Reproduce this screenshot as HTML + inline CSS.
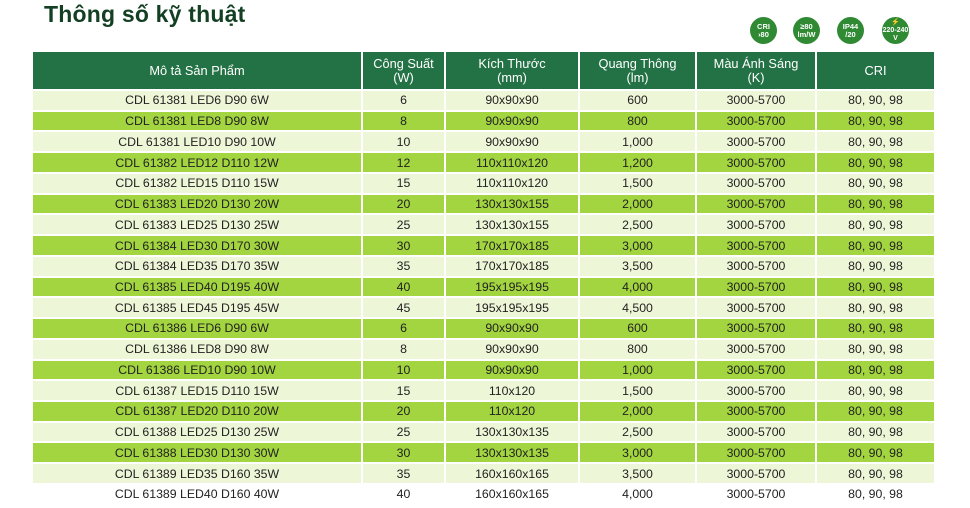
<!DOCTYPE html>
<html><head><meta charset="utf-8"><style>
body{margin:0;width:970px;height:508px;background:#fff;position:relative;overflow:hidden;font-family:"Liberation Sans",sans-serif}
.title{position:absolute;left:44px;top:1px;font-size:23px;font-weight:bold;color:#133f22;letter-spacing:0.2px}
.ic{position:absolute;top:17px;width:27px;height:27px;border-radius:50%;background:#2f8a33;color:#fff;font-size:7.5px;font-weight:bold;text-align:center;line-height:8px;display:flex;align-items:center;justify-content:center}
table{position:absolute;left:31px;top:50px;border-collapse:separate;border-spacing:2px;table-layout:fixed}
td,th{padding:0;text-align:center;font-size:12.3px;color:#222;font-weight:normal;white-space:nowrap}
th{background:#237245;color:#fff;height:37px;font-size:12.8px;line-height:14px}
td{height:18.74px;line-height:18px}
tr.a td{background:#eef6d8}
tr.b td{background:#a2d53f}
tr.c td{background:#fff}
</style></head><body>
<div class="title">Thông số kỹ thuật</div>
<div class="ic" style="left:750px">CRI<br>›80</div>
<div class="ic" style="left:793px">≥80<br>lm/W</div>
<div class="ic" style="left:837px">IP44<br>/20</div>
<div class="ic" style="left:882px;font-size:7px">⚡<br>220-240<br>V</div>
<table>
<colgroup><col style="width:328px"><col style="width:81px"><col style="width:132px"><col style="width:115px"><col style="width:118px"><col style="width:117px"></colgroup>
<tr><th>Mô tả Sản Phẩm</th><th>Công Suất<br>(W)</th><th>Kích Thước<br>(mm)</th><th>Quang Thông<br>(lm)</th><th>Màu Ánh Sáng<br>(K)</th><th>CRI</th></tr>
<tr class="a"><td>CDL 61381 LED6 D90 6W</td><td>6</td><td>90x90x90</td><td>600</td><td>3000-5700</td><td>80, 90, 98</td></tr>
<tr class="b"><td>CDL 61381 LED8 D90 8W</td><td>8</td><td>90x90x90</td><td>800</td><td>3000-5700</td><td>80, 90, 98</td></tr>
<tr class="a"><td>CDL 61381 LED10 D90 10W</td><td>10</td><td>90x90x90</td><td>1,000</td><td>3000-5700</td><td>80, 90, 98</td></tr>
<tr class="b"><td>CDL 61382 LED12 D110 12W</td><td>12</td><td>110x110x120</td><td>1,200</td><td>3000-5700</td><td>80, 90, 98</td></tr>
<tr class="a"><td>CDL 61382 LED15 D110 15W</td><td>15</td><td>110x110x120</td><td>1,500</td><td>3000-5700</td><td>80, 90, 98</td></tr>
<tr class="b"><td>CDL 61383 LED20 D130 20W</td><td>20</td><td>130x130x155</td><td>2,000</td><td>3000-5700</td><td>80, 90, 98</td></tr>
<tr class="a"><td>CDL 61383 LED25 D130 25W</td><td>25</td><td>130x130x155</td><td>2,500</td><td>3000-5700</td><td>80, 90, 98</td></tr>
<tr class="b"><td>CDL 61384 LED30 D170 30W</td><td>30</td><td>170x170x185</td><td>3,000</td><td>3000-5700</td><td>80, 90, 98</td></tr>
<tr class="a"><td>CDL 61384 LED35 D170 35W</td><td>35</td><td>170x170x185</td><td>3,500</td><td>3000-5700</td><td>80, 90, 98</td></tr>
<tr class="b"><td>CDL 61385 LED40 D195 40W</td><td>40</td><td>195x195x195</td><td>4,000</td><td>3000-5700</td><td>80, 90, 98</td></tr>
<tr class="a"><td>CDL 61385 LED45 D195 45W</td><td>45</td><td>195x195x195</td><td>4,500</td><td>3000-5700</td><td>80, 90, 98</td></tr>
<tr class="b"><td>CDL 61386 LED6 D90 6W</td><td>6</td><td>90x90x90</td><td>600</td><td>3000-5700</td><td>80, 90, 98</td></tr>
<tr class="a"><td>CDL 61386 LED8 D90 8W</td><td>8</td><td>90x90x90</td><td>800</td><td>3000-5700</td><td>80, 90, 98</td></tr>
<tr class="b"><td>CDL 61386 LED10 D90 10W</td><td>10</td><td>90x90x90</td><td>1,000</td><td>3000-5700</td><td>80, 90, 98</td></tr>
<tr class="a"><td>CDL 61387 LED15 D110 15W</td><td>15</td><td>110x120</td><td>1,500</td><td>3000-5700</td><td>80, 90, 98</td></tr>
<tr class="b"><td>CDL 61387 LED20 D110 20W</td><td>20</td><td>110x120</td><td>2,000</td><td>3000-5700</td><td>80, 90, 98</td></tr>
<tr class="a"><td>CDL 61388 LED25 D130 25W</td><td>25</td><td>130x130x135</td><td>2,500</td><td>3000-5700</td><td>80, 90, 98</td></tr>
<tr class="b"><td>CDL 61388 LED30 D130 30W</td><td>30</td><td>130x130x135</td><td>3,000</td><td>3000-5700</td><td>80, 90, 98</td></tr>
<tr class="a"><td>CDL 61389 LED35 D160 35W</td><td>35</td><td>160x160x165</td><td>3,500</td><td>3000-5700</td><td>80, 90, 98</td></tr>
<tr class="c"><td>CDL 61389 LED40 D160 40W</td><td>40</td><td>160x160x165</td><td>4,000</td><td>3000-5700</td><td>80, 90, 98</td></tr>
</table>
</body></html>
